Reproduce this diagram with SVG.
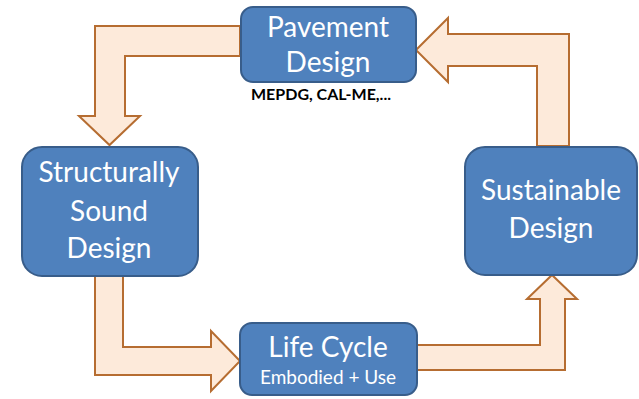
<svg xmlns="http://www.w3.org/2000/svg" width="639" height="399" viewBox="0 0 639 399">
  <defs>
    <style>
      .box { fill: #4F81BD; stroke: #385D8A; stroke-width: 2; }
      .flow { fill: #FDEADA; stroke: #B66D31; stroke-width: 2; stroke-linejoin: miter; }
      .title { font-family: Lato, "Open Sans", "Liberation Sans", sans-serif; fill: #FFFFFF; font-size: 28px; text-anchor: middle; }
      .sub { font-family: Lato, "Open Sans", "Liberation Sans", sans-serif; fill: #FFFFFF; font-size: 19px; text-anchor: middle; }
      .note { font-family: Lato, "Open Sans", "Liberation Sans", sans-serif; fill: #000000; font-size: 16px; font-weight: bold; text-anchor: middle; }
    </style>
  </defs>
  <rect width="639" height="399" fill="#FFFFFF"/>

  <!-- block arrows linking the stages -->
  <g id="connectors">
    <polygon class="flow" points="240,26 95,26 95,116 79,116 109.5,145 140,116 125,116 125,56 240,56"/>
    <polygon class="flow" points="416,50 448,18 448,34 569,34 569,146 537,146 537,66 448,66 448,82"/>
    <polygon class="flow" points="95,276 123,276 123,347 211,347 211,331 240,361 211,391 211,375 95,375"/>
    <polygon class="flow" points="416,345 540,345 540,299 527,299 552,275 577,299 565,299 565,370 416,370"/>
  </g>

  <g id="pavement-design">
    <rect class="box" x="241" y="7" width="175" height="75" rx="12"/>
    <text class="title" x="328" y="37">Pavement</text>
    <text class="title" x="328" y="72">Design</text>
    <text class="note" x="321" y="100">MEPDG, CAL-ME,...</text>
  </g>

  <g id="structurally-sound-design">
    <rect class="box" x="22" y="147" width="176" height="129" rx="20"/>
    <text class="title" x="109" y="182">Structurally</text>
    <text class="title" x="109" y="221">Sound</text>
    <text class="title" x="109" y="258">Design</text>
  </g>

  <g id="sustainable-design">
    <rect class="box" x="465" y="147" width="172" height="128" rx="20"/>
    <text class="title" x="551" y="200">Sustainable</text>
    <text class="title" x="551" y="238">Design</text>
  </g>

  <g id="life-cycle">
    <rect class="box" x="240" y="323" width="177" height="72" rx="12"/>
    <text class="title" x="328" y="357">Life Cycle</text>
    <text class="sub" x="328" y="384">Embodied + Use</text>
  </g>
</svg>
